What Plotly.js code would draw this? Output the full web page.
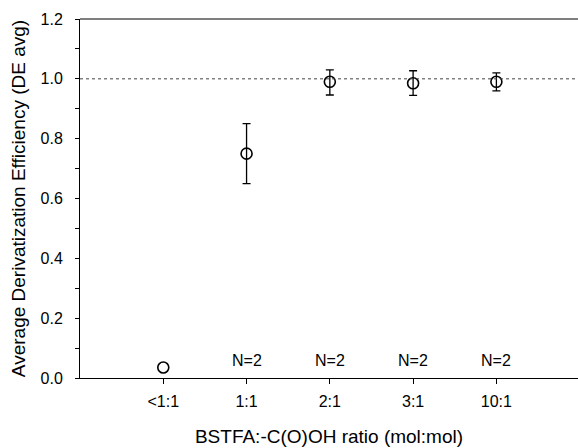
<!DOCTYPE html>
<html>
<head>
<meta charset="utf-8">
<script src="https://cdn.plot.ly/plotly-3.0.1.min.js"></script>
<style>html,body{margin:0;padding:0;background:#fff;}#chart{width:578px;height:448px;}</style>
</head>
<body>
<div id="chart"></div>
<script>
var categories = ["<1:1", "1:1", "2:1", "3:1", "10:1"];
var deAvg = [0.035, 0.75, 0.99, 0.985, 0.99];
var errPlus = [null, 0.10, 0.04, 0.042, 0.03];
var errMinus = [null, 0.10, 0.044, 0.04, 0.03];
var nLabels = ["", "N=2", "N=2", "N=2", "N=2"];
var refLevel = 1.0;

var xIdx = categories.map(function(c, i){ return i; });
var withErr = xIdx.filter(function(i){ return errPlus[i] !== null; });
var noErr = xIdx.filter(function(i){ return errPlus[i] === null; });

var markerStyle = {symbol: "circle-open", size: 11, color: "#000", line: {width: 1.6, color: "#000"}};

var traceErr = {
  x: withErr,
  y: withErr.map(function(i){ return deAvg[i]; }),
  mode: "markers", type: "scatter",
  marker: markerStyle,
  error_y: {type: "data", symmetric: false,
            array: withErr.map(function(i){ return errPlus[i]; }),
            arrayminus: withErr.map(function(i){ return errMinus[i]; }),
            color: "#000", thickness: 1.3, width: 4},
  showlegend: false, hoverinfo: "none"
};
var traceNoErr = {
  x: noErr,
  y: noErr.map(function(i){ return deAvg[i]; }),
  mode: "markers", type: "scatter",
  marker: markerStyle,
  showlegend: false, hoverinfo: "none"
};

var annotations = [];
nLabels.forEach(function(t, i){
  if (t) annotations.push({x: xIdx[i], y: 0.058, xref: "x", yref: "y", text: t,
    showarrow: false, font: {family: "Liberation Sans, Arial, sans-serif", size: 16, color: "#000"}});
});

var layout = {
  width: 578, height: 448,
  margin: {l: 80, r: 0, t: 19, b: 70},
  paper_bgcolor: "#fff", plot_bgcolor: "#fff",
  font: {family: "Liberation Sans, Arial, sans-serif", size: 16, color: "#000"},
  xaxis: {
    range: [-1, 4.98], tickmode: "array", tickvals: xIdx, ticktext: categories,
    tickfont: {size: 16},
    showgrid: false, zeroline: false, showline: true, linecolor: "#000", linewidth: 1,
    ticks: "outside", ticklen: 5, tickcolor: "#000", ticklabelstandoff: 4,
    title: {text: "BSTFA:-C(O)OH ratio (mol:mol)", font: {size: 19}, standoff: 20}
  },
  yaxis: {
    range: [0, 1.2], dtick: 0.2, tickformat: ".1f",
    tickfont: {size: 16},
    showgrid: false, zeroline: false, showline: true, linecolor: "#000", linewidth: 1,
    ticks: "outside", ticklen: 4, tickcolor: "#000", ticklabelstandoff: 9,
    minor: {dtick: 0.1, ticks: "outside", ticklen: 4, tickcolor: "#000"},
    title: {text: "Average Derivatization Efficiency (DE avg)", font: {size: 19}, standoff: 9}
  },
  shapes: [
    {type: "line", xref: "paper", x0: 0, x1: 1, yref: "y", y0: refLevel, y1: refLevel,
     line: {color: "#444", width: 1, dash: "dot"}},
    {type: "line", xref: "paper", x0: 0, x1: 1, yref: "paper", y0: 1, y1: 1,
     line: {color: "#000", width: 1.2}}
  ],
  annotations: annotations
};

Plotly.newPlot("chart", [traceErr, traceNoErr], layout, {displayModeBar: false, staticPlot: true});
</script>
</body>
</html>
